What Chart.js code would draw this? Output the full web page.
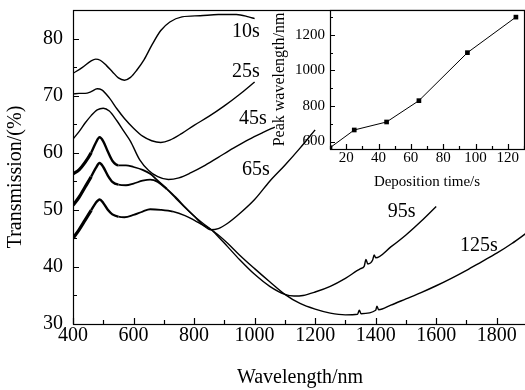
<!DOCTYPE html>
<html>
<head>
<meta charset="utf-8">
<script src="https://cdn.jsdelivr.net/npm/chart.js@4.4.1/dist/chart.umd.min.js"></script>
<style>
    html, body { margin: 0; padding: 0; background: #fff; overflow: hidden; }
    #wrap { position: relative; width: 528px; height: 390px; }
    #main { position: absolute; left: 0; top: 0; }
    #inset { position: absolute; left: 270px; top: 0; }
</style>
</head>
<body>
<div id="wrap">
    <canvas id="main" width="528" height="390"></canvas>
    <canvas id="inset" width="258" height="195"></canvas>
</div>
<script>
let schrift = "'Liberation Serif', 'Times New Roman', serif";

// Transmissionsspektren (Wellenlänge in nm, Transmission in %)
let wl10 = [400, 430, 460, 475, 490, 510, 530, 550, 570, 590, 610, 635, 660, 690, 720, 760, 820, 880, 940, 980, 1000];
let tr10 = [73.9, 74.9, 76.1, 76.4, 76.2, 75.3, 74.2, 73.1, 72.7, 73.2, 74.4, 76.3, 78.8, 81.4, 82.9, 83.8, 84.0, 84.2, 84.2, 83.8, 83.5];

let wl25 = [400, 420, 440, 460, 480, 495, 520, 545, 570, 600, 630, 660, 690, 720, 760, 800, 850, 900, 950, 1000];
let tr25 = [70.3, 70.4, 70.4, 70.7, 71.2, 71.0, 69.6, 67.7, 66.0, 64.3, 62.9, 62.1, 61.8, 62.2, 63.4, 64.8, 66.4, 68.2, 70.2, 72.4];

let wl45 = [400, 420, 440, 460, 480, 500, 520, 545, 570, 590, 620, 650, 680, 715, 750, 790, 830, 880, 930, 980, 1030, 1067];
let tr45 = [62.4, 63.7, 65.2, 66.5, 67.5, 67.8, 67.3, 65.6, 63.6, 62.0, 58.8, 56.9, 55.8, 55.3, 55.6, 56.5, 57.6, 59.2, 60.8, 62.3, 63.6, 64.5];

let wl65 = [400, 420, 440, 460, 475, 488, 500, 515, 530, 550, 575, 600, 630, 655, 680, 710, 740, 770, 800, 830, 855, 880, 910, 950, 1000, 1050, 1100, 1150, 1200];
let tr65 = [56.3, 57.0, 58.3, 60.0, 61.7, 62.7, 62.0, 60.2, 58.6, 57.8, 57.8, 57.5, 57.0, 56.3, 55.1, 53.7, 52.2, 50.5, 48.9, 47.3, 46.5, 46.7, 47.6, 49.3, 51.8, 55.0, 57.8, 60.8, 64.0];

let wl95 = [400, 420, 440, 460, 475, 488, 500, 515, 530, 550, 575, 600, 630, 655, 680, 710, 740, 770, 800, 830, 855, 880, 910, 950, 1000, 1050, 1100, 1130, 1160, 1200, 1250, 1300, 1350, 1362, 1368, 1374, 1390, 1395, 1400, 1450, 1500, 1550, 1600];
let tr95 = [50.8, 52.2, 54.0, 55.8, 57.3, 58.2, 57.5, 56.0, 54.9, 54.4, 54.3, 54.6, 55.1, 55.3, 54.9, 53.6, 52.0, 50.4, 48.9, 47.6, 46.6, 45.3, 43.6, 41.3, 38.7, 36.6, 35.2, 34.9, 35.0, 35.6, 36.6, 38.0, 39.7, 40.1, 41.3, 40.5, 41.2, 42.1, 41.6, 43.5, 45.6, 48.0, 50.6];

let wl125 = [400, 420, 440, 460, 475, 488, 500, 515, 530, 550, 570, 600, 630, 655, 690, 730, 770, 800, 830, 855, 880, 910, 950, 1000, 1050, 1100, 1150, 1200, 1250, 1300, 1340, 1346, 1352, 1400, 1404, 1410, 1450, 1500, 1550, 1600, 1650, 1700, 1750, 1800, 1850, 1900];
let tr125 = [45.0, 46.5, 48.2, 49.9, 51.2, 51.8, 51.2, 50.0, 49.2, 48.8, 48.7, 49.1, 49.7, 50.1, 50.0, 49.7, 49.0, 48.2, 47.3, 46.6, 45.6, 44.2, 42.1, 39.7, 37.4, 35.2, 33.6, 32.6, 31.9, 31.6, 31.7, 32.4, 31.8, 32.4, 33.1, 32.5, 33.3, 34.4, 35.5, 36.7, 38.0, 39.4, 40.9, 42.4, 44.1, 46.0];

let wellenlaengeTicks = [400, 600, 800, 1000, 1200, 1400, 1600, 1800];
let transmissionTicks = [30, 40, 50, 60, 70, 80];

// Kurvenbeschriftung, Lage in Datenkoordinaten (nm, %)
let kurvenNamen = ['10s', '25s', '45s', '65s', '95s', '125s'];
let namenX = [971, 971, 994, 1004, 1486, 1741];
let namenY = [81.2, 74.2, 66.0, 57.0, 49.6, 43.7];

// Inset: Peak-Wellenlänge gegen Depositionszeit
let depositionZeit = [10, 25, 45, 65, 95, 125];
let peakWellenlaenge = [565, 665, 710, 830, 1100, 1300];
let zeitTicks = [20, 40, 60, 80, 100, 120];
let peakTicks = [600, 800, 1000, 1200];


function punkte(xs, ys) {
    /*
        Baut aus zwei Arrays die {x, y} Punkte für Chart.js.
     */
    return xs.map(function (x, i) {
        return {x: x, y: ys[i]};
    });
}

function rauschBreite(ctx) {
    /*
        Die dünnen Filme rauschen im kurzwelligen Bereich, dort wird die Linie dicker gezeichnet.
     */
    let x = ctx.p0.parsed.x;
    if (x < 450) return 3.2;
    if (x < 540) return 2.4;
    if (x < 700) return 1.8;
    return 1.4;
}

function kurve(xs, ys, verrauscht) {
    let dataset = {
        data: punkte(xs, ys),
        borderColor: '#000',
        borderWidth: 1.4,
        pointRadius: 0,
        cubicInterpolationMode: 'monotone',
        fill: false
    };
    if (verrauscht) dataset.segment = {borderWidth: rauschBreite};
    return dataset;
}

let rahmenTicks = {
    /*
        Zeichnet den Rahmen und die nach innen zeigenden Ticks.
     */
    id: 'rahmenTicks',
    afterDatasetsDraw(chart, args, opts) {
        let ctx = chart.ctx;
        let a = chart.chartArea;
        let sx = chart.scales.x;
        let sy = chart.scales.y;
        ctx.save();
        ctx.strokeStyle = '#000';
        ctx.lineWidth = 1.2;
        ctx.beginPath();
        for (let i = Math.ceil(sx.min / opts.xStep); i * opts.xStep <= sx.max; i++) {
            let v = i * opts.xStep;
            let px = Math.round(sx.getPixelForValue(v)) + 0.5;
            let len = opts.xMajor.includes(v) ? opts.major : opts.minor;
            ctx.moveTo(px, a.bottom);
            ctx.lineTo(px, a.bottom - len);
        }
        for (let i = Math.ceil(sy.min / opts.yStep); i * opts.yStep <= sy.max; i++) {
            let v = i * opts.yStep;
            let py = Math.round(sy.getPixelForValue(v)) + 0.5;
            let len = opts.yMajor.includes(v) ? opts.major : opts.minor;
            ctx.moveTo(a.left, py);
            ctx.lineTo(a.left + len, py);
        }
        ctx.stroke();
        ctx.strokeRect(Math.round(a.left) + 0.5, Math.round(a.top) + 0.5,
            Math.round(a.right - a.left), Math.round(a.bottom - a.top));
        ctx.restore();
    }
};

let kurvenText = {
    id: 'kurvenText',
    afterDraw(chart) {
        let ctx = chart.ctx;
        ctx.save();
        ctx.fillStyle = '#000';
        ctx.font = '20px ' + schrift;
        ctx.textAlign = 'center';
        ctx.textBaseline = 'middle';
        for (let i = 0; i < kurvenNamen.length; i++) {
            ctx.fillText(kurvenNamen[i], chart.scales.x.getPixelForValue(namenX[i]), chart.scales.y.getPixelForValue(namenY[i]));
        }
        ctx.restore();
    }
};

let weissFlaeche = {
    id: 'weissFlaeche',
    beforeDraw(chart) {
        let a = chart.chartArea;
        chart.ctx.save();
        chart.ctx.fillStyle = '#fff';
        chart.ctx.fillRect(a.left, a.top, a.right - a.left, a.bottom - a.top);
        chart.ctx.restore();
    }
};

function achse(min, max, ticks, groesse, padding, titel, titelGroesse, titelPadding, breite, hoehe) {
    return {
        type: 'linear',
        min: min,
        max: max,
        afterBuildTicks: function (scale) {
            scale.ticks = ticks.map(function (v) { return {value: v}; });
        },
        afterFit: function (scale) {
            // Feste Achsengrösse, ohne Platz für halbe Tick-Labels am Rand
            if (breite) scale.width = breite;
            if (hoehe) scale.height = hoehe;
            scale.paddingTop = 0;
            scale.paddingBottom = 0;
            scale.paddingLeft = 0;
            scale.paddingRight = 0;
        },
        grid: {display: false, drawTicks: false},
        border: {display: false},
        ticks: {
            color: '#000',
            font: {family: schrift, size: groesse},
            padding: padding,
            autoSkip: false,
            maxRotation: 0,
            callback: function (v) { return String(v); }
        },
        title: {
            display: true,
            text: titel,
            color: '#000',
            font: {family: schrift, size: titelGroesse},
            padding: titelPadding
        }
    };
}

Chart.defaults.animation = false;
Chart.defaults.devicePixelRatio = 1;

new Chart(document.getElementById('main'), {
    type: 'line',
    data: {
        datasets: [
            kurve(wl10, tr10, false),
            kurve(wl25, tr25, false),
            kurve(wl45, tr45, false),
            kurve(wl65, tr65, true),
            kurve(wl95, tr95, true),
            kurve(wl125, tr125, true)
        ]
    },
    options: {
        responsive: false,
        layout: {padding: {top: 10, right: 1, left: 0, bottom: 0}},
        plugins: {
            legend: {display: false},
            tooltip: {enabled: false},
            rahmenTicks: {xStep: 100, yStep: 5, xMajor: wellenlaengeTicks, yMajor: transmissionTicks, major: 6, minor: 4}
        },
        scales: {
            x: achse(400, 1900, wellenlaengeTicks, 20, 0, 'Wavelength/nm', 20, {top: 0, bottom: 0}, 0, 66),
            y: achse(30, 85, transmissionTicks, 20, 10, 'Transmission/(%)    ', 20, {top: 4, bottom: 0}, 73, 0)
        }
    },
    plugins: [rahmenTicks, kurvenText]
});

new Chart(document.getElementById('inset'), {
    type: 'line',
    data: {
        datasets: [{
            data: punkte(depositionZeit, peakWellenlaenge),
            borderColor: '#000',
            borderWidth: 1,
            pointStyle: 'rect',
            pointRadius: 3.3,
            pointBackgroundColor: '#000',
            pointBorderWidth: 0,
            tension: 0
        }]
    },
    options: {
        responsive: false,
        layout: {padding: {top: 10, right: 1, left: 0, bottom: 0}},
        plugins: {
            legend: {display: false},
            tooltip: {enabled: false},
            rahmenTicks: {xStep: 10, yStep: 100, xMajor: zeitTicks, yMajor: peakTicks, major: 5, minor: 3}
        },
        scales: {
            x: achse(10, 130, zeitTicks, 15, 0, 'Deposition time/s', 15, {top: 0, bottom: 4}, 0, 46),
            y: achse(558, 1340, peakTicks, 15, 5, 'Peak wavelength/nm', 16, {top: 0, bottom: 0}, 60, 0)
        }
    },
    plugins: [weissFlaeche, rahmenTicks]
});
</script>
</body>
</html>
